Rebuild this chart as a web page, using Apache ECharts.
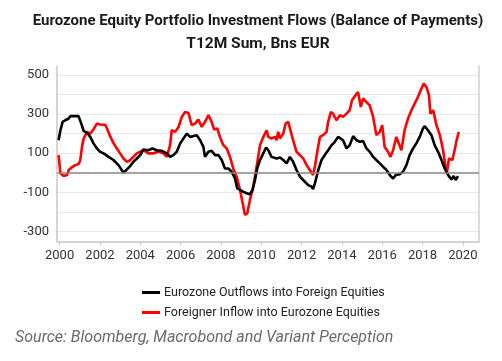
<!DOCTYPE html>
<html>
<head>
<meta charset="utf-8">
<script src="https://cdn.jsdelivr.net/npm/echarts@6/dist/echarts.min.js"></script>
<style>html,body{margin:0;padding:0;background:#fff}#c{width:502px;height:361px}</style>
</head>
<body>
<div id="c"></div>
<script>
var titleText = 'Eurozone Equity Portfolio Investment Flows (Balance of Payments)';
var subtitleText = 'T12M Sum, Bns EUR';
var sourceText = 'Source: Bloomberg, Macrobond and Variant Perception';
var seriesNames = ['Eurozone Outflows into Foreign Equities', 'Foreigner Inflow into Eurozone Equities'];
var xTickYears = [2000, 2002, 2004, 2006, 2008, 2010, 2012, 2014, 2016, 2018, 2020];
var yTickLabels = [-300, -100, 100, 300, 500];
var yGridValues = [-300, -200, -100, 0, 100, 200, 300, 400, 500];

var blackDates = [1999.95,2000.04,2000.15,2000.28,2000.45,2000.53,2000.7,2000.78,2000.94,2001.0,2001.1,2001.19,2001.36,2001.52,2001.68,2001.85,2002.01,2002.18,2002.43,2002.67,2002.92,2003.17,2003.34,2003.5,2003.66,2003.83,2004.0,2004.16,2004.4,2004.6,2004.82,2005.07,2005.32,2005.48,2005.64,2005.81,2005.98,2006.14,2006.31,2006.47,2006.63,2006.8,2006.97,2007.13,2007.21,2007.38,2007.54,2007.71,2007.87,2008.04,2008.2,2008.37,2008.53,2008.7,2008.81,2008.95,2009.1,2009.28,2009.44,2009.57,2009.69,2009.8,2009.94,2010.1,2010.24,2010.35,2010.51,2010.76,2010.93,2011.09,2011.26,2011.42,2011.58,2011.75,2011.92,2012.08,2012.16,2012.33,2012.5,2012.57,2012.66,2012.83,2012.99,2013.15,2013.32,2013.49,2013.65,2013.81,2013.9,2014.06,2014.23,2014.39,2014.56,2014.72,2014.89,2015.05,2015.22,2015.38,2015.55,2015.71,2015.88,2016.04,2016.21,2016.29,2016.41,2016.54,2016.67,2016.87,2017.03,2017.2,2017.36,2017.53,2017.69,2017.86,2018.02,2018.1,2018.27,2018.44,2018.6,2018.77,2018.94,2019.1,2019.27,2019.43,2019.54,2019.64,2019.76];
var blackValues = [166,217,260,268,277,289,289,282,289,285,243,214,204,183,150,124,107,99,81,65,39,0,17,34,56,73,90,119,115,124,115,112,99,81,90,107,150,175,200,183,187,192,166,132,81,107,112,90,90,65,22,22,5,-29,-80,-88,-97,-105,-110,-88,-37,22,65,99,129,115,81,73,78,65,48,81,56,14,-20,-37,-29,-63,-71,-84,-54,14,65,90,115,141,158,183,192,166,124,141,187,166,158,162,124,107,81,65,48,31,14,17,-17,-29,-12,-7,5,39,90,124,150,183,226,238,217,192,141,107,65,22,-12,-34,-17,-37,-17];

var redDates = [1999.95,2000.04,2000.2,2000.37,2000.45,2000.6,2000.78,2000.94,2001.02,2001.11,2001.19,2001.36,2001.52,2001.68,2001.85,2002.01,2002.26,2002.35,2002.52,2002.68,2002.84,2003.0,2003.17,2003.34,2003.5,2003.66,2003.83,2004.0,2004.16,2004.4,2004.65,2004.9,2005.15,2005.32,2005.48,2005.56,2005.73,2005.9,2006.06,2006.22,2006.39,2006.55,2006.72,2006.88,2007.05,2007.21,2007.38,2007.54,2007.66,2007.82,2007.95,2008.12,2008.29,2008.45,2008.61,2008.78,2008.95,2009.08,2009.19,2009.31,2009.44,2009.6,2009.77,2009.94,2010.1,2010.27,2010.35,2010.51,2010.68,2010.76,2010.84,2010.93,2011.09,2011.21,2011.34,2011.47,2011.58,2011.75,2011.92,2012.08,2012.25,2012.41,2012.57,2012.66,2012.79,2012.91,2013.07,2013.24,2013.32,2013.45,2013.56,2013.73,2013.9,2014.06,2014.23,2014.39,2014.5,2014.67,2014.8,2014.94,2015.05,2015.22,2015.38,2015.55,2015.71,2015.88,2016.0,2016.12,2016.29,2016.41,2016.54,2016.7,2016.79,2016.95,2017.03,2017.11,2017.28,2017.45,2017.61,2017.77,2017.94,2018.06,2018.19,2018.32,2018.39,2018.53,2018.69,2018.86,2019.02,2019.15,2019.2,2019.31,2019.48,2019.59,2019.69,2019.8];
var redValues = [90,-3,-17,-12,14,27,39,45,61,132,175,209,200,221,251,246,245,226,183,150,124,99,73,56,64,81,99,107,115,99,99,107,99,81,141,217,209,234,285,310,305,243,251,272,234,260,294,260,221,226,183,141,124,81,22,-20,-88,-156,-215,-206,-139,-71,31,141,183,217,183,175,183,166,209,175,200,251,260,209,166,107,90,73,39,14,-12,31,115,183,192,209,260,310,302,268,294,285,302,319,370,395,412,336,379,361,344,285,192,209,243,132,107,81,115,183,192,115,166,217,277,319,353,387,429,455,438,395,302,319,243,192,115,22,-5,73,65,115,166,209];

function pairs(xs, ys) { return xs.map(function (x, i) { return [x, ys[i]]; }); }

var chart = echarts.init(document.getElementById('c'), null, {renderer: 'canvas'});
var FONT = 'Roboto, "Noto Sans", sans-serif';
chart.setOption({
  animation: false,
  textStyle: {fontFamily: FONT},
  graphic: [
    {type: 'text', x: 258, y: 21, style: {text: titleText, fontFamily: FONT, fontWeight: 'bold', fontSize: 15, fill: '#1a1a1a', align: 'center', verticalAlign: 'middle'}},
    {type: 'text', x: 258, y: 44.5, style: {text: subtitleText, fontFamily: FONT, fontWeight: 'bold', fontSize: 15.5, fill: '#1a1a1a', align: 'center', verticalAlign: 'middle'}},
    {type: 'text', x: 15, y: 338, style: {text: sourceText, fontFamily: FONT, fontStyle: 'italic', fontSize: 16, fill: '#6a6a6a', align: 'left', verticalAlign: 'middle'}}
  ],
  legend: {
    orient: 'vertical', left: 137, top: 281,
    icon: 'rect', itemWidth: 18, itemHeight: 3, itemGap: 7,
    textStyle: {fontSize: 12.5, color: '#222', fontFamily: FONT, padding: [0, 0, 0, -1]},
    data: seriesNames
  },
  grid: {left: 57, right: 23, top: 66, bottom: 119.7, containLabel: false},
  xAxis: {
    type: 'value', min: 1999.87, max: 2020.8,
    axisLine: {show: true, onZero: false, lineStyle: {color: '#c8c8c8', width: 1.5}},
    axisTick: {show: true, length: 4, customValues: xTickYears, lineStyle: {color: '#c8c8c8'}},
    axisLabel: {customValues: xTickYears, fontSize: 13, color: '#333', margin: 8, formatter: function (v) { return String(Math.round(v)); }},
    splitLine: {show: false}
  },
  yAxis: [{
    type: 'value', min: -350, max: 545,
    axisLine: {show: true, lineStyle: {color: '#c8c8c8', width: 1.5}},
    axisTick: {show: false, customValues: yGridValues},
    axisLabel: {customValues: yTickLabels, fontSize: 13, color: '#333', margin: 8},
    splitLine: {show: true, lineStyle: {color: '#e8e8e8', width: 1}}
  }, {
    type: 'value', min: -350, max: 545, position: 'right',
    axisLine: {show: true, lineStyle: {color: '#d0d0d0', width: 1.5}},
    axisTick: {show: false}, axisLabel: {show: false}, splitLine: {show: false}
  }],
  series: [{
    name: seriesNames[0], type: 'line', symbol: 'none', data: pairs(blackDates, blackValues),
    lineStyle: {color: '#000', width: 2.6}, itemStyle: {color: '#000'}, z: 3,
    markLine: {silent: true, symbol: 'none', label: {show: false}, lineStyle: {color: '#8a8a8a', width: 1.5, type: 'solid'}, data: [{yAxis: 0}]}
  }, {
    name: seriesNames[1], type: 'line', symbol: 'none', data: pairs(redDates, redValues),
    lineStyle: {color: '#ff0000', width: 2.6}, itemStyle: {color: '#ff0000'}, z: 2
  }]
});
</script>
</body>
</html>
